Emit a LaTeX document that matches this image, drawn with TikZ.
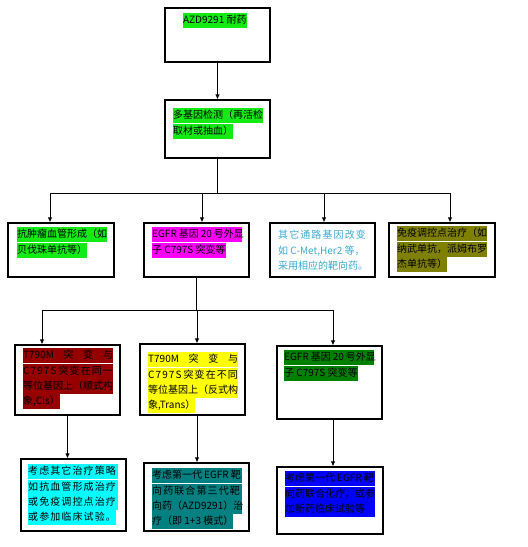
\documentclass[tikz,border=0pt]{standalone}
\usepackage{fontspec}
\usepackage{xcolor}
\usetikzlibrary{arrows.meta,positioning}
\newfontfamily\cjk{Noto Sans CJK SC}
\definecolor{hlgreen}{RGB}{20,235,20}
\definecolor{hlmagenta}{RGB}{255,0,255}
\definecolor{hlolive}{RGB}{128,128,0}
\definecolor{hldarkred}{RGB}{150,0,0}
\definecolor{hlyellow}{RGB}{255,255,0}
\definecolor{hldarkgreen}{RGB}{0,128,0}
\definecolor{hlcyan}{RGB}{0,255,255}
\definecolor{hlteal}{RGB}{0,128,128}
\definecolor{hlblue}{RGB}{0,0,255}
\definecolor{textaqua}{RGB}{60,170,210}

\tikzset{
  box/.style={draw, line width=1.1pt, minimum width=105pt, inner sep=0pt},
  hl/.style={anchor=north west, inner sep=0pt, text height=10.5pt, text depth=4.5pt,
    font=\cjk\fontsize{10}{12}\selectfont},
  fl/.style={execute at begin node={\hbox to 90pt\bgroup\spaceskip=2pt\relax},
    execute at end node={\hss\egroup}},
  wide/.style={font=\cjk\fontsize{10}{12}\selectfont\addfontfeature{LetterSpace=11}},
  link/.style={line width=0.9pt},
  arr/.style={-{Latex[length=5pt,width=4.5pt]}, line width=0.9pt},
}

\begin{document}
\begin{tikzpicture}[x=1pt,y=-1pt]
    \useasboundingbox[fill=white] (0,0) rectangle (528,547);

    % Top: resistance and re-testing
    \node[box, minimum height=54pt] (azd) at (217.5,35) {};
    \node[hl, fill=hlgreen] (azdA) at (183,13) {AZD9291 耐药};

    \node[box, minimum height=58pt] (test) at (217.5,129) {};
    \node[hl, fill=hlgreen, fl] (testA) at (173,108) {多基因检测（再活检};
    \node[hl, fill=hlgreen] (testB) at (testA.south west) {取材或抽血）};

    \draw[arr] (azd.south) -- (test.north);

    % Second row
    \node[box, minimum width=106pt, minimum height=54pt] (angio) at (61,250) {};
    \node[hl, fill=hlgreen, fl] (angioA) at (17,227) {抗肿瘤血管形成（如};
    \node[hl, fill=hlgreen] (angioB) at (angioA.south west) {贝伐珠单抗等）};

    \node[box, minimum height=54pt] (egfr) at (196.5,250) {};
    \node[hl, fill=hlmagenta, fl] (egfrA) at (152,227) {EGFR 基因 20 号外显};
    \node[hl, fill=hlmagenta] (egfrB) at (egfrA.south west) {子 C797S 突变等};

    \node[box, minimum height=54pt] (other) at (322.5,250) {};
    \node[hl, wide, text=textaqua] (otherA) at (278,228) {其它通路基因改变};
    \node[hl, text=textaqua] (otherB) at (otherA.south west) {如 C-Met,Her2 等，};
    \node[hl, text=textaqua] (otherC) at (otherB.south west) {采用相应的靶向药。};

    \node[box, minimum width=106pt, minimum height=54pt] (immune) at (442,250) {};
    \node[hl, fill=hlolive, fl] (immuneA) at (397,226) {免疫调控点治疗（如};
    \node[hl, fill=hlolive, fl] (immuneB) at (immuneA.south west) {纳武单抗，派姆布罗};
    \node[hl, fill=hlolive] (immuneC) at (immuneB.south west) {杰单抗等）};

    % Branches to the second row
    \coordinate (y1) at (0,193);
    \coordinate (jA) at (50,193);
    \coordinate (jB) at (202,193);
    \coordinate (jC) at (324,193);
    \coordinate (jD) at (450,193);
    \draw[link] (test.south) -- (test.south |- y1);
    \draw[link] (jA) -- (jD);
    \draw[arr] (jA) -- (jA |- angio.north);
    \draw[arr] (jB) -- (jB |- egfr.north);
    \draw[arr] (jC) -- (jC |- other.north);
    \draw[arr] (jD) -- (jD |- immune.north);

    % Third row
    \node[box, minimum height=70pt] (cis) at (67.5,380) {};
    \node[hl, fill=hldarkred, fl] (cisA) at (23,348) {T790M\hfill 突\hfill 变\hfill 与};
    \node[hl, wide, fill=hldarkred, fl] (cisB) at (cisA.south west) {C797S 突变在同一};
    \node[hl, fill=hldarkred, fl] (cisC) at (cisB.south west) {等位基因上（顺式构};
    \node[hl, fill=hldarkred] (cisD) at (cisC.south west) {象,Cis）};

    \node[box, minimum height=71pt] (trans) at (192.5,379.5) {};
    \node[hl, fill=hlyellow, fl] (transA) at (148,352) {T790M\hfill 突\hfill 变\hfill 与};
    \node[hl, wide, fill=hlyellow, fl] (transB) at (transA.south west) {C797S 突变在不同};
    \node[hl, fill=hlyellow, fl] (transC) at (transB.south west) {等位基因上（反式构};
    \node[hl, fill=hlyellow] (transD) at (transC.south west) {象,Trans）};

    \node[box, minimum height=73pt] (exon) at (329.5,382.5) {};
    \node[hl, fill=hldarkgreen, fl] (exonA) at (284,350) {EGFR 基因 20 号外显};
    \node[hl, fill=hldarkgreen] (exonB) at (exonA.south west) {子 C797S 突变等};

    % Branches to the third row
    \coordinate (y2) at (0,310);
    \coordinate (kE) at (42,310);
    \coordinate (kF) at (197,310);
    \coordinate (kG) at (333,310);
    \draw[link] (egfr.south) -- (egfr.south |- y2);
    \draw[link] (kE) -- (kG);
    \draw[arr] (kE) -- (kE |- cis.north);
    \draw[arr] (kF) -- (kF |- trans.north);
    \draw[arr] (kG) -- (kG |- exon.north);

    % Bottom row
    \node[box, minimum height=72pt] (trial) at (73.5,495) {};
    \node[hl, wide, fill=hlcyan, fl] (trialA) at (28,464) {考虑其它治疗策略};
    \node[hl, wide, fill=hlcyan, fl] (trialB) at (trialA.south west) {如抗血管形成治疗};
    \node[hl, wide, fill=hlcyan, fl] (trialC) at (trialB.south west) {或免疫调控点治疗};
    \node[hl, wide, fill=hlcyan] (trialD) at (trialC.south west) {或参加临床试验。};

    \node[box, minimum height=68pt] (combo) at (196.5,497) {};
    \node[hl, fill=hlteal, fl] (comboA) at (152,468) {考虑第一代 EGFR 靶};
    \node[hl, wide, fill=hlteal, fl] (comboB) at (comboA.south west) {向药联合第三代靶};
    \node[hl, fill=hlteal, fl] (comboC) at (comboB.south west) {向药（AZD9291）治};
    \node[hl, fill=hlteal] (comboD) at (comboC.south west) {疗（即 1+3 模式）};

    \node[box, minimum width=106pt, minimum height=67pt] (chemo) at (330,500.5) {};
    \node[hl, fill=hlblue, fl] (chemoA) at (285,471) {考虑第一代 EGFR 靶};
    \node[hl, fill=hlblue, fl] (chemoB) at (chemoA.south west) {向药联合化疗，或参};
    \node[hl, fill=hlblue, fl] (chemoC) at (chemoB.south west) {加新药临床试验等};

    \draw[arr] (cis.south) -- (cis.south |- trial.north);
    \draw[arr] (kF |- trans.south) -- (kF |- combo.north);
    \draw[arr] (kG |- exon.south) -- (kG |- chemo.north);
\end{tikzpicture}
\end{document}
